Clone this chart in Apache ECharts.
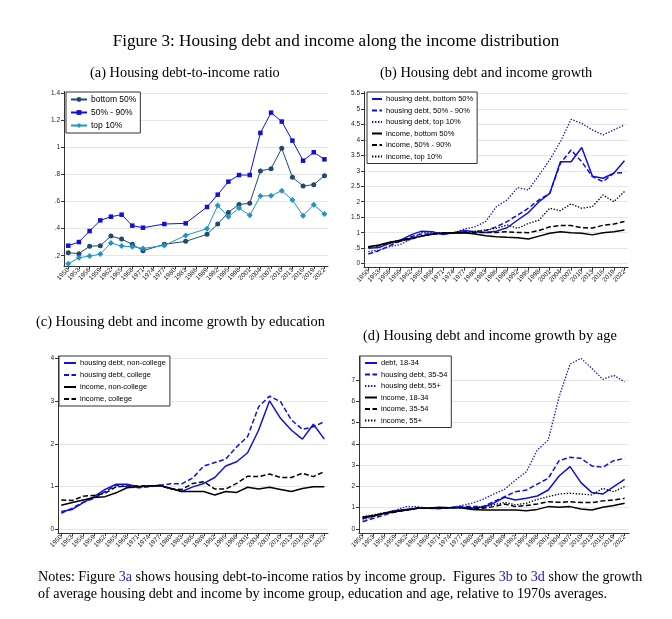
<!DOCTYPE html>
<html><head><meta charset="utf-8">
<script src="https://cdn.jsdelivr.net/npm/echarts@6/dist/echarts.min.js"></script>
<style>html,body{margin:0;padding:0;background:#fff}#c{width:672px;height:619px}</style>
</head><body><div id="c"></div>
<script>
// ---------- DATA ----------
const years = [1950,1953,1956,1959,1962,1965,1968,1971,1974,1977,1980,1983,1986,1989,1992,1995,1998,2001,2004,2007,2010,2013,2016,2019,2022];
const yearsA = [1950,1953,1956,1959,1962,1965,1968,1971,1977,1983,1989,1992,1995,1998,2001,2004,2007,2010,2013,2016,2019,2022];

// (a) housing debt-to-income ratio
const aBottom50 = [0.222,0.215,0.270,0.274,0.345,0.323,0.284,0.237,0.284,0.306,0.358,0.434,0.520,0.579,0.587,0.826,0.843,0.993,0.779,0.715,0.725,0.791];
const aMid = [0.274,0.301,0.382,0.461,0.488,0.503,0.422,0.407,0.434,0.439,0.560,0.651,0.747,0.796,0.796,1.107,1.257,1.191,1.050,0.902,0.964,0.912];
const aTop10 = [0.141,0.185,0.197,0.212,0.294,0.271,0.267,0.254,0.276,0.350,0.400,0.570,0.488,0.552,0.498,0.641,0.643,0.680,0.611,0.496,0.577,0.508];

// (b) growth by income group
const bDebtBottom = [0.50,0.52,0.66,0.76,0.93,1.05,1.03,0.94,1.00,1.07,1.03,1.01,1.05,1.16,1.41,1.65,2.00,2.27,3.29,3.29,3.75,2.82,2.76,2.92,3.32];
const bDebtMid = [0.31,0.42,0.58,0.73,0.87,0.96,0.96,0.98,1.00,1.03,1.03,1.07,1.19,1.36,1.57,1.79,2.06,2.27,3.24,3.67,3.29,2.81,2.65,2.92,2.94];
const bDebtTop = [0.39,0.44,0.55,0.62,0.79,1.00,1.00,0.96,1.00,1.12,1.19,1.36,1.84,2.06,2.46,2.38,2.86,3.35,3.94,4.66,4.53,4.32,4.16,4.32,4.48];
const bIncBottom = [0.55,0.60,0.69,0.76,0.82,0.89,0.95,0.99,0.99,1.00,0.96,0.90,0.87,0.85,0.84,0.80,0.89,0.98,1.03,1.00,0.98,0.93,1.00,1.03,1.09];
const bIncMid = [0.53,0.58,0.68,0.74,0.79,0.89,0.96,0.99,0.99,1.00,1.00,1.01,1.01,1.03,1.01,1.00,1.07,1.19,1.23,1.23,1.16,1.15,1.24,1.28,1.36];
const bIncTop = [0.55,0.59,0.66,0.72,0.80,0.89,0.96,1.00,0.99,1.00,1.05,1.09,1.14,1.25,1.14,1.30,1.41,1.79,1.71,1.93,1.79,1.84,2.22,2.00,2.33];

// (c) growth by education
const cDebtNonCol = [0.41,0.46,0.62,0.76,0.93,1.05,1.05,0.99,1.01,1.02,0.95,0.88,0.99,1.07,1.21,1.48,1.58,1.79,2.32,3.01,2.60,2.32,2.11,2.46,2.11];
const cDebtCol = [0.37,0.49,0.63,0.72,0.88,1.03,0.99,0.97,0.99,1.03,1.06,1.06,1.20,1.48,1.56,1.64,1.93,2.17,2.87,3.12,2.99,2.56,2.34,2.40,2.52];
const cIncNonCol = [0.56,0.62,0.68,0.74,0.76,0.85,0.97,0.99,1.01,1.02,0.95,0.88,0.88,0.88,0.80,0.88,0.86,0.98,0.94,0.98,0.93,0.88,0.95,0.99,0.99];
const cIncCol = [0.68,0.67,0.77,0.79,0.84,0.99,1.01,1.01,1.01,1.02,0.94,0.93,1.07,1.11,0.94,0.94,1.07,1.24,1.23,1.29,1.21,1.21,1.31,1.23,1.35];

// (d) growth by age
const dDebt1834 = [0.50,0.61,0.74,0.86,0.92,0.97,0.97,0.96,1.00,1.02,0.97,1.02,1.21,1.49,1.36,1.44,1.55,1.83,2.49,2.93,2.18,1.71,1.64,1.99,2.33];
const dDebt3554 = [0.34,0.50,0.66,0.81,0.89,0.97,0.97,0.96,1.00,1.05,1.05,1.05,1.28,1.52,1.75,1.83,2.11,2.38,3.21,3.37,3.32,2.96,2.90,3.21,3.32];
const dDebt55 = [0.42,0.58,0.74,0.89,1.05,1.05,0.97,0.97,1.00,1.10,1.21,1.39,1.64,1.86,2.30,2.69,3.71,4.18,6.22,7.75,8.02,7.55,7.03,7.22,6.92];
const dInc1834 = [0.55,0.63,0.74,0.81,0.89,0.97,0.97,1.02,1.00,1.00,0.92,0.89,0.89,0.89,0.89,0.86,0.92,1.05,1.02,1.05,0.94,0.89,1.02,1.10,1.21];
const dInc3554 = [0.50,0.61,0.74,0.81,0.89,0.97,0.97,1.00,1.00,1.00,0.97,0.97,1.05,1.17,1.05,1.10,1.17,1.28,1.25,1.28,1.24,1.24,1.32,1.36,1.44];
const dInc55 = [0.58,0.66,0.77,0.86,0.92,0.97,1.00,1.00,1.00,1.02,1.00,1.05,1.13,1.25,1.13,1.21,1.39,1.52,1.64,1.68,1.64,1.60,1.91,1.75,1.99];

// tick labels
const xTicks = years;
const yTicksA = [0.2,0.4,0.6,0.8,1.0,1.2,1.4];
const yTicksB = [0,0.5,1,1.5,2,2.5,3,3.5,4,4.5,5,5.5];
const yTicksC = [0,1,2,3,4];
const yTicksD = [0,1,2,3,4,5,6,7];

// ---------- CHART ----------
const SANS = 'Liberation Sans, Arial, sans-serif';
const SERIF = 'Liberation Serif, Times New Roman, serif';
const BLUE = '#1010dc';
const BLACK = '#000000';
const NAVY = '#1f4a72';
const TEAL = '#1e96c0';
const DASH = [5, 2.5];
const DOT = [1.4, 1.6];

function pair(xs, vs){ return xs.map((x,i)=>[x, vs[i]]); }
function fmtA(v){ let s = (Math.round(v*10)/10).toString(); return s.replace(/^0\./,'.'); }
function fmtB(v){ let s = v.toString(); return s.replace(/^0\./,'.'); }

const grids = [
  {left:64, top:91.5, width:264, height:174.5},
  {left:364, top:91.8, width:264, height:175.9},
  {left:58, top:356, width:270, height:177},
  {left:359, top:356, width:270, height:177}
];
const xRanges = [[1948.8,2023],[1948.8,2023],[1949.1,2023],[1949.0,2023.2]];
const yRanges = [[0.124,1.413],[-0.13,5.55],[-0.094,4.063],[-0.19,8.13]];
const yTicks = [yTicksA, yTicksB, yTicksC, yTicksD];
const yFmt = [fmtA, fmtB, v=>String(v), v=>String(v)];

const xAxis = grids.map((g,i)=>({
  type:'value', gridIndex:i, min:xRanges[i][0], max:xRanges[i][1],
  axisLine:{show:true, onZero:false, lineStyle:{color:'#333', width:1}},
  axisTick:{show:true, length:3, customValues:xTicks, lineStyle:{color:'#333'}},
  axisLabel:{customValues:xTicks, rotate:45, fontSize:6.5, color:'#222', fontFamily:SANS, margin:3, formatter:v=>String(v)},
  splitLine:{show:false}
}));
const yAxis = grids.map((g,i)=>({
  type:'value', gridIndex:i, min:yRanges[i][0], max:yRanges[i][1],
  axisLine:{show:true, lineStyle:{color:'#333', width:1}},
  axisTick:{show:true, length:3, customValues:yTicks[i], lineStyle:{color:'#333'}},
  axisLabel:{customValues:yTicks[i], fontSize:6.5, color:'#222', fontFamily:SANS, margin:4, formatter:yFmt[i], showMinLabel:true, showMaxLabel:true},
  splitLine:{show:true, lineStyle:{color:'#e6e6e6', width:1}}
}));

function ln(name, gi, xs, vs, color, type, width){
  return {name, type:'line', xAxisIndex:gi, yAxisIndex:gi, data:pair(xs,vs), symbol:'none',
    lineStyle:{color, type, width}, itemStyle:{color}, animation:false, z:3};
}
function mk(name, xs, vs, color, symbol, size){
  return {name, type:'line', xAxisIndex:0, yAxisIndex:0, data:pair(xs,vs), symbol, symbolSize:size, showSymbol:true,
    lineStyle:{color, width:1}, itemStyle:{color}, animation:false, z:3};
}

const series = [
  mk('bottom 50%', yearsA, aBottom50, NAVY, 'circle', 5),
  mk('50% - 90%', yearsA, aMid, BLUE, 'rect', 4.5),
  mk('top 10%', yearsA, aTop10, TEAL, 'diamond', 6),

  ln('housing debt, bottom 50%',1,years,bDebtBottom,BLUE,'solid',1.5),
  ln('housing debt, 50% - 90%',1,years,bDebtMid,BLUE,DASH,1.5),
  ln('housing debt, top 10%',1,years,bDebtTop,BLUE,DOT,1.3),
  ln('income, bottom 50%',1,years,bIncBottom,BLACK,'solid',1.5),
  ln('income, 50% - 90%',1,years,bIncMid,BLACK,DASH,1.5),
  ln('income, top 10%',1,years,bIncTop,BLACK,DOT,1.3),

  ln('housing debt, non-college',2,years,cDebtNonCol,BLUE,'solid',1.5),
  ln('housing debt, college',2,years,cDebtCol,BLUE,DASH,1.5),
  ln('income, non-college',2,years,cIncNonCol,BLACK,'solid',1.5),
  ln('income, college',2,years,cIncCol,BLACK,DASH,1.5),

  ln('debt, 18-34',3,years,dDebt1834,BLUE,'solid',1.5),
  ln('housing debt, 35-54',3,years,dDebt3554,BLUE,DASH,1.5),
  ln('housing debt, 55+',3,years,dDebt55,BLUE,DOT,1.3),
  ln('income, 18-34',3,years,dInc1834,BLACK,'solid',1.5),
  ln('income, 35-54',3,years,dInc3554,BLACK,DASH,1.5),
  ln('income, 55+',3,years,dInc55,BLACK,DOT,1.3)
];

function legend(names, left, top, fs, gap, iw, hideSym){
  const l = {data:names, orient:'vertical', left, top, backgroundColor:'#fff', borderColor:'#333', borderWidth:1,
    padding:[3,4,3,4], itemGap:gap, itemWidth:iw, itemHeight:6, selectedMode:false,
    textStyle:{fontSize:fs, fontFamily:SANS, color:'#000', padding:[0,0,0,-1]}, z:10};
  if (hideSym) l.itemStyle = {opacity:0};
  return l;
}

const T = (text, left, top, fs) => ({text, left, top, padding:0, textStyle:{fontFamily:SERIF, fontWeight:'normal', fontSize:fs, color:'#000'}});
const titles = [
  Object.assign(T('Figure 3: Housing debt and income along the income distribution', 'center', 33, 17.1)),
  T('(a) Housing debt-to-income ratio', 90, 66, 14.4),
  T('(b) Housing debt and income growth', 380, 66, 14.4),
  T('(c) Housing debt and income growth by education', 36, 315, 14.4),
  T('(d) Housing debt and income growth by age', 363, 329, 14.4),
  {text:'Notes: Figure {l|3a} shows housing debt-to-income ratios by income group.  Figures {l|3b} to {l|3d} show the growth\nof average housing debt and income by income group, education and age, relative to 1970s averages.',
   left:38, top:569, padding:0, textStyle:{fontFamily:SERIF, fontWeight:'normal', fontSize:14.1, color:'#000', lineHeight:17,
   rich:{l:{fontFamily:SERIF, fontSize:14.1, color:'#2323b0', lineHeight:17}}}}
];

const option = {
  animation:false,
  backgroundColor:'#fff',
  title: titles,
  grid: grids.map(g=>Object.assign({containLabel:false}, g)),
  xAxis, yAxis,
  legend: [
    legend(['bottom 50%','50% - 90%','top 10%'], 66, 92, 8.5, 4, 16, false),
    legend(['housing debt, bottom 50%','housing debt, 50% - 90%','housing debt, top 10%','income, bottom 50%','income, 50% - 90%','income, top 10%'], 367, 92, 7.5, 3.5, 10, true),
    legend(['housing debt, non-college','housing debt, college','income, non-college','income, college'], 59, 356, 7.5, 4, 12, true),
    legend(['debt, 18-34','housing debt, 35-54','housing debt, 55+','income, 18-34','income, 35-54','income, 55+'], 360, 356, 7.5, 3.5, 12, true)
  ],
  series
};
const chart = echarts.init(document.getElementById('c'), null, {renderer:'canvas'});
chart.setOption(option);
</script>
</body></html>
